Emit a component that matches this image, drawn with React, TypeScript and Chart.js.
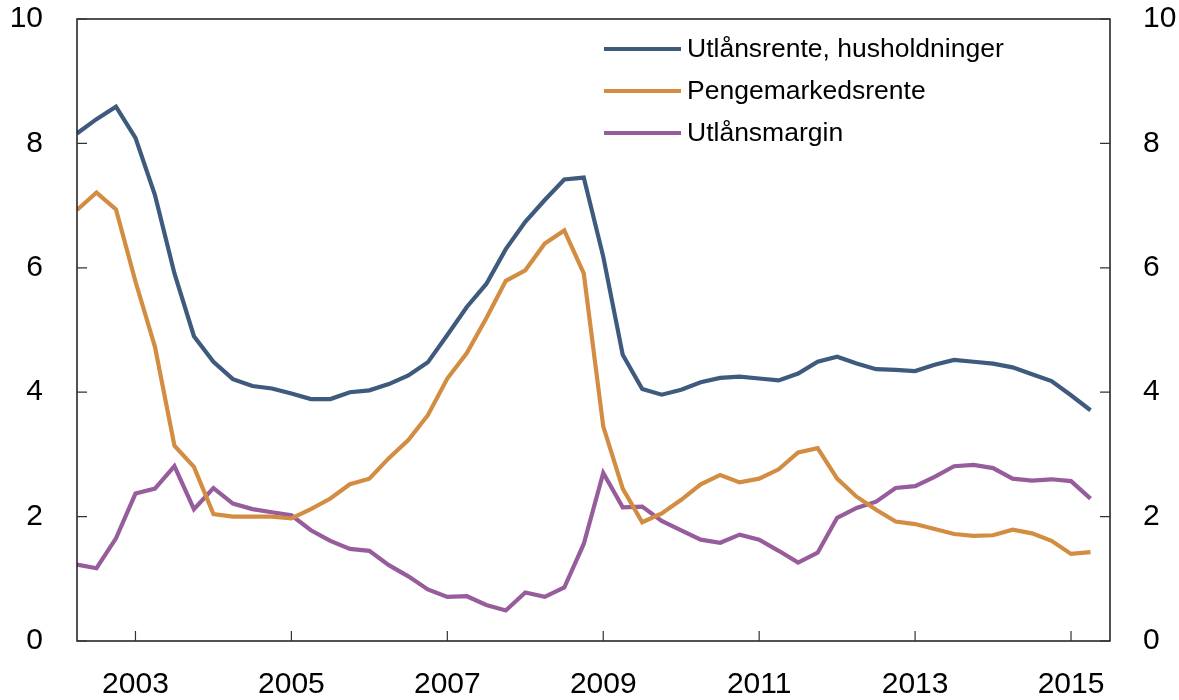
import { useEffect, useRef } from "react";
import { Chart, registerables } from "chart.js";

Chart.register(...registerables);

// Quarterly observations (2002 Q2 – 2015 Q2)
const QUARTERS = [
  "2002K2", "2002K3", "2002K4",
  "2003K1", "2003K2", "2003K3", "2003K4",
  "2004K1", "2004K2", "2004K3", "2004K4",
  "2005K1", "2005K2", "2005K3", "2005K4",
  "2006K1", "2006K2", "2006K3", "2006K4",
  "2007K1", "2007K2", "2007K3", "2007K4",
  "2008K1", "2008K2", "2008K3", "2008K4",
  "2009K1", "2009K2", "2009K3", "2009K4",
  "2010K1", "2010K2", "2010K3", "2010K4",
  "2011K1", "2011K2", "2011K3", "2011K4",
  "2012K1", "2012K2", "2012K3", "2012K4",
  "2013K1", "2013K2", "2013K3", "2013K4",
  "2014K1", "2014K2", "2014K3", "2014K4",
  "2015K1", "2015K2",
];

const LENDING_RATE = [
  8.16, 8.39, 8.59, 8.09, 7.17, 5.91, 4.9, 4.49, 4.21, 4.1, 4.06, 3.98, 3.89, 3.89, 4.0,
  4.03, 4.13, 4.27, 4.48, 4.92, 5.37, 5.74, 6.3, 6.74, 7.09, 7.42, 7.45, 6.18, 4.6,
  4.05, 3.96, 4.04, 4.16, 4.23, 4.25, 4.22, 4.19, 4.3, 4.49, 4.57, 4.46, 4.37,
  4.36, 4.34, 4.44, 4.52, 4.49, 4.46, 4.4, 4.29, 4.18, 3.95, 3.71,
];

const MONEY_MARKET_RATE = [
  6.93, 7.21, 6.94, 5.78, 4.73, 3.14, 2.8, 2.04, 2.0, 2.0, 2.0, 1.97, 2.12, 2.29, 2.52,
  2.61, 2.94, 3.23, 3.63, 4.22, 4.63, 5.19, 5.79, 5.96, 6.39, 6.6, 5.91, 3.45, 2.45,
  1.91, 2.05, 2.27, 2.52, 2.67, 2.55, 2.61, 2.76, 3.03, 3.1, 2.61, 2.32, 2.11,
  1.92, 1.88, 1.8, 1.72, 1.69, 1.7, 1.79, 1.73, 1.61, 1.4, 1.43,
];

const LENDING_MARGIN = [
  1.23, 1.17, 1.65, 2.37, 2.45, 2.81, 2.12, 2.46, 2.21, 2.12, 2.07, 2.02, 1.78, 1.61, 1.48,
  1.45, 1.22, 1.04, 0.83, 0.71, 0.72, 0.58, 0.49, 0.78, 0.71, 0.86, 1.56, 2.7, 2.15,
  2.16, 1.93, 1.78, 1.63, 1.58, 1.71, 1.63, 1.45, 1.26, 1.42, 1.98, 2.14, 2.24,
  2.46, 2.49, 2.64, 2.81, 2.83, 2.78, 2.61, 2.58, 2.6, 2.57, 2.29,
];

const SERIES_NAMES = ["Utlånsrente, husholdninger", "Pengemarkedsrente", "Utlånsmargin"];
const SERIES_COLORS = ["#3e5a7c", "#d38d42", "#975c9b"];

const X_TICK_YEARS = [2003, 2005, 2007, 2009, 2011, 2013, 2015];
const Y_TICKS = [0, 2, 4, 6, 8, 10];
const X_MIN = 2002.25;
const X_MAX = 2015.5;

const FONT = "'Liberation Sans', Arial, Helvetica, sans-serif";

const quarterToX = (q: string) => {
  const year = parseInt(q.slice(0, 4), 10);
  const quarter = parseInt(q.slice(5), 10);
  return year + (quarter - 1) / 4;
};

const toPoints = (values: number[]) =>
  values.map((v, i) => ({ x: quarterToX(QUARTERS[i]), y: v }));

const framePlugin = {
  id: "frameAndTicks",
  afterDraw(chart: any) {
    const { ctx, chartArea, scales } = chart;
    const { left, right, top, bottom } = chartArea;
    const tickLen = 10;
    ctx.save();
    ctx.strokeStyle = "#1a1a1a";
    ctx.lineWidth = 1.5;
    ctx.strokeRect(left, top, right - left, bottom - top);
    ctx.lineWidth = 1.2;
    ctx.strokeStyle = "#333";
    ctx.beginPath();
    Y_TICKS.forEach((v) => {
      const y = scales.y.getPixelForValue(v);
      ctx.moveTo(left, y);
      ctx.lineTo(left + tickLen, y);
      const y2 = scales.y2.getPixelForValue(v);
      ctx.moveTo(right, y2);
      ctx.lineTo(right - tickLen, y2);
    });
    X_TICK_YEARS.forEach((yr) => {
      const x = scales.x.getPixelForValue(yr);
      ctx.moveTo(x, bottom);
      ctx.lineTo(x, bottom - tickLen);
    });
    ctx.stroke();
    ctx.restore();
  },
};

const legendPlugin = {
  id: "insideLegend",
  afterDatasetsDraw(chart: any) {
    const { ctx, chartArea } = chart;
    const x0 = chartArea.left + 527;
    const lineLen = 77;
    const y0 = chartArea.top + 30;
    const rowGap = 42;
    ctx.save();
    ctx.font = `26.5px ${FONT}`;
    ctx.textBaseline = "middle";
    ctx.textAlign = "left";
    chart.data.datasets.forEach((ds: any, i: number) => {
      const y = y0 + i * rowGap;
      ctx.strokeStyle = ds.borderColor;
      ctx.lineWidth = 4;
      ctx.beginPath();
      ctx.moveTo(x0, y);
      ctx.lineTo(x0 + lineLen, y);
      ctx.stroke();
      ctx.fillStyle = "#000";
      ctx.fillText(ds.label, x0 + lineLen + 6, y + 1);
    });
    ctx.restore();
  },
};

export default function App() {
  const canvasRef = useRef<HTMLCanvasElement | null>(null);

  useEffect(() => {
    document.body.style.margin = "0";
    const canvas = canvasRef.current;
    if (!canvas) return;
    const seriesValues = [LENDING_RATE, MONEY_MARKET_RATE, LENDING_MARGIN];
    const tickFont = { family: FONT, size: 30 };

    const fitY = (w: number) => (scale: any) => {
      scale.width = w;
      scale.paddingTop = 0;
      scale.paddingBottom = 0;
    };

    const chart = new Chart(canvas, {
      type: "line",
      data: {
        datasets: seriesValues.map((vals, i) => ({
          label: SERIES_NAMES[i],
          data: toPoints(vals),
          borderColor: SERIES_COLORS[i],
          backgroundColor: SERIES_COLORS[i],
          borderWidth: 4.2,
          pointRadius: 0,
          tension: 0,
          fill: false,
          yAxisID: "y",
        })),
      },
      options: {
        animation: false,
        responsive: false,
        devicePixelRatio: 1,
        layout: { padding: { top: 19, left: 0, right: 0, bottom: 0 } },
        plugins: {
          legend: { display: false },
          tooltip: { enabled: false },
        },
        scales: {
          x: {
            type: "linear",
            min: X_MIN,
            max: X_MAX,
            grid: { display: false, drawTicks: false },
            border: { display: false },
            afterBuildTicks: (scale: any) => {
              scale.ticks = X_TICK_YEARS.map((v) => ({ value: v }));
            },
            afterFit: (scale: any) => {
              scale.height = 59;
              scale.paddingLeft = 0;
              scale.paddingRight = 0;
            },
            ticks: {
              font: tickFont,
              color: "#000",
              padding: 26,
              maxRotation: 0,
              autoSkip: false,
              callback: (v: any) => String(v),
            },
          },
          y: {
            position: "left",
            min: 0,
            max: 10,
            grid: { display: false, drawTicks: false },
            border: { display: false },
            afterFit: fitY(77),
            ticks: {
              stepSize: 2,
              font: tickFont,
              color: "#000",
              padding: 34,
              callback: (v: any) => String(v),
            },
          },
          y2: {
            position: "right",
            min: 0,
            max: 10,
            grid: { display: false, drawTicks: false },
            border: { display: false },
            afterFit: fitY(69),
            ticks: {
              stepSize: 2,
              font: tickFont,
              color: "#000",
              padding: 33,
              callback: (v: any) => String(v),
            },
          },
        },
      },
      plugins: [framePlugin, legendPlugin],
    } as any);

    return () => {
      chart.destroy();
    };
  }, []);

  return (
    <div style={{ width: 1179, height: 700, background: "#fff" }}>
      <canvas ref={canvasRef} width={1179} height={700} />
    </div>
  );
}
